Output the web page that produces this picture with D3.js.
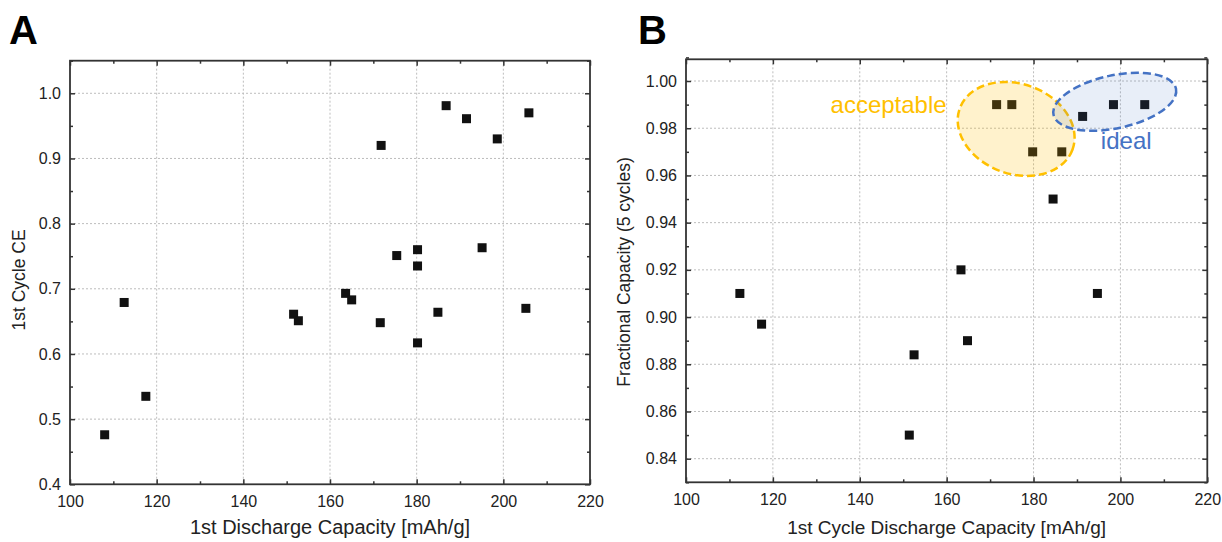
<!DOCTYPE html>
<html>
<head>
<meta charset="utf-8">
<script src="https://cdn.jsdelivr.net/npm/d3@7"></script>
<style>
  body { margin: 0; background: #fff; }
  svg { display: block; font-family: "Liberation Sans", Arial, sans-serif; }
</style>
</head>
<body>
<svg id="chart" width="1222" height="542"></svg>
<script>
// panel A : 1st discharge capacity vs 1st cycle CE
var capA = [108.0, 112.5, 117.5, 151.6, 152.7, 163.6, 165.0, 171.6, 171.8, 175.4, 180.2, 180.2, 180.2, 184.9, 186.8, 191.5, 195.1, 198.6, 205.2, 205.9];
var ceA  = [0.476, 0.679, 0.535, 0.661, 0.651, 0.693, 0.683, 0.648, 0.920, 0.751, 0.760, 0.735, 0.617, 0.664, 0.981, 0.961, 0.763, 0.930, 0.670, 0.970];

// panel B : 1st cycle discharge capacity vs fractional capacity after 5 cycles
var capB  = [112.4, 117.4, 151.4, 152.5, 163.3, 164.8, 171.5, 175.0, 179.8, 184.5, 186.5, 191.3, 194.7, 198.4, 205.6];
var fracB = [0.910, 0.897, 0.850, 0.884, 0.920, 0.890, 0.990, 0.990, 0.970, 0.950, 0.970, 0.985, 0.910, 0.990, 0.990];

// tick values
var xTicks = [100, 120, 140, 160, 180, 200, 220];
var xMinor = [110, 130, 150, 170, 190, 210];
var yTicksA = [0.4, 0.5, 0.6, 0.7, 0.8, 0.9, 1.0];
var yMinorA = [0.45, 0.55, 0.65, 0.75, 0.85, 0.95, 1.05];
var yTicksB = [0.84, 0.86, 0.88, 0.90, 0.92, 0.94, 0.96, 0.98, 1.00];
var yMinorB = [0.83, 0.85, 0.87, 0.89, 0.91, 0.93, 0.95, 0.97, 0.99, 1.01];

// highlighted regions in panel B (centre in data units)
var regionNames = ["acceptable", "ideal"];
var regionCx = [176.0, 198.7];
var regionCy = [0.9797, 0.9912];

var svg = d3.select("#chart");

function drawPanel(opt) {
  var x = d3.scaleLinear().domain([100, 220]).range([opt.left, opt.right]);
  var y = d3.scaleLinear().domain(opt.yDomain).range([opt.bottom, opt.top]);
  var w = opt.right - opt.left, h = opt.bottom - opt.top;
  var g = svg.append("g");

  // grid
  g.append("g").selectAll("line")
    .data(xTicks.filter(function(d) { return d > 100 && d < 220; }))
    .enter().append("line")
    .attr("x1", function(d) { return x(d); }).attr("x2", function(d) { return x(d); })
    .attr("y1", opt.top).attr("y2", opt.bottom)
    .attr("stroke", "#bdbdbd").attr("stroke-width", 1).attr("stroke-dasharray", "2,2");
  g.append("g").selectAll("line")
    .data(opt.yTicks.filter(function(d) { return y(d) > opt.top + 1 && y(d) < opt.bottom - 1; }))
    .enter().append("line")
    .attr("y1", function(d) { return y(d); }).attr("y2", function(d) { return y(d); })
    .attr("x1", opt.left).attr("x2", opt.right)
    .attr("stroke", "#bdbdbd").attr("stroke-width", 1).attr("stroke-dasharray", "2,2");

  // axes, ticks pointing inwards on all four sides
  var axes = [
    [d3.axisBottom(x).tickValues(xTicks).tickSize(-5).tickPadding(11), "translate(0," + opt.bottom + ")"],
    [d3.axisBottom(x).tickValues(xMinor).tickSize(-3).tickFormat(""), "translate(0," + opt.bottom + ")"],
    [d3.axisTop(x).tickValues(xTicks).tickSize(-5).tickFormat(""), "translate(0," + opt.top + ")"],
    [d3.axisTop(x).tickValues(xMinor).tickSize(-3).tickFormat(""), "translate(0," + opt.top + ")"],
    [d3.axisLeft(y).tickValues(opt.yTicks).tickSize(-5).tickPadding(9).tickFormat(d3.format(opt.yFmt)), "translate(" + opt.left + ",0)"],
    [d3.axisLeft(y).tickValues(opt.yMinor).tickSize(-3).tickFormat(""), "translate(" + opt.left + ",0)"],
    [d3.axisRight(y).tickValues(opt.yTicks).tickSize(-5).tickFormat(""), "translate(" + opt.right + ",0)"],
    [d3.axisRight(y).tickValues(opt.yMinor).tickSize(-3).tickFormat(""), "translate(" + opt.right + ",0)"]
  ];
  axes.forEach(function(a) {
    var ag = g.append("g").attr("transform", a[1]).call(a[0]);
    ag.select(".domain").remove();
    ag.selectAll(".tick line").attr("stroke", "#333").attr("stroke-width", 1.5);
    ag.selectAll(".tick text").attr("fill", "#222").style("font-size", "16px");
  });

  // frame
  g.append("rect").attr("x", opt.left).attr("y", opt.top).attr("width", w).attr("height", h)
    .attr("fill", "none").attr("stroke", "#333").attr("stroke-width", 1.8);

  // points
  g.append("g").selectAll("rect")
    .data(opt.xs.map(function(v, i) { return [v, opt.ys[i]]; }))
    .enter().append("rect")
    .attr("x", function(d) { return x(d[0]) - 4.5; })
    .attr("y", function(d) { return y(d[1]) - 4.5; })
    .attr("width", 9).attr("height", 9)
    .attr("fill", "#111");

  // axis titles
  g.append("text").attr("x", (opt.left + opt.right) / 2).attr("y", 534)
    .attr("text-anchor", "middle").attr("fill", "#222").style("font-size", opt.xTitleSize)
    .text(opt.xTitle);
  g.append("text")
    .attr("transform", "translate(" + opt.yTitleX + "," + opt.yTitleY + ") rotate(-90)")
    .attr("text-anchor", "middle").attr("fill", "#222").style("font-size", "17.5px")
    .text(opt.yTitle);

  // panel letter
  g.append("text").attr("x", opt.letterX).attr("y", 44)
    .attr("fill", "#000").style("font-size", "40px").style("font-weight", "bold")
    .text(opt.letter);

  return {x: x, y: y, g: g};
}

drawPanel({
  left: 70, right: 590, top: 60.7, bottom: 484.3,
  yDomain: [0.4, 1.05], yTicks: yTicksA, yMinor: yMinorA, yFmt: ".1f",
  xs: capA, ys: ceA,
  xTitle: "1st Discharge Capacity [mAh/g]", xTitleSize: "20px",
  yTitle: "1st Cycle CE", yTitleX: 25, yTitleY: 280,
  letter: "A", letterX: 9
});

var pB = drawPanel({
  left: 686, right: 1207.3, top: 59.3, bottom: 482.3,
  yDomain: [0.83, 1.0092], yTicks: yTicksB, yMinor: yMinorB, yFmt: ".2f",
  xs: capB, ys: fracB,
  xTitle: "1st Cycle Discharge Capacity [mAh/g]", xTitleSize: "19px",
  yTitle: "Fractional Capacity (5 cycles)", yTitleX: 630, yTitleY: 272,
  letter: "B", letterX: 638
});

// acceptable / ideal regions drawn over the points, semi transparent
var regionStyle = [
  {color: "#FFC000", opacity: 0.2, rx: 60, ry: 45, rot: 20, label: [160.0, 0.99], anchor: "end"},
  {color: "#4472C4", opacity: 0.12, rx: 62.6, ry: 26.5, rot: -12, label: [195.5, 0.9745], anchor: "start"}
];
regionNames.forEach(function(name, i) {
  var s = regionStyle[i];
  var cx = pB.x(regionCx[i]), cy = pB.y(regionCy[i]);
  pB.g.append("ellipse")
    .attr("cx", 0).attr("cy", 0).attr("rx", s.rx).attr("ry", s.ry)
    .attr("transform", "translate(" + cx + "," + cy + ") rotate(" + s.rot + ")")
    .attr("fill", s.color).attr("fill-opacity", s.opacity)
    .attr("stroke", s.color).attr("stroke-width", 2.5).attr("stroke-dasharray", "8,4");
  pB.g.append("text")
    .attr("x", pB.x(s.label[0])).attr("y", pB.y(s.label[1])).attr("dy", 8)
    .attr("text-anchor", s.anchor).attr("fill", s.color).style("font-size", "24px")
    .text(name);
});
</script>
</body>
</html>
